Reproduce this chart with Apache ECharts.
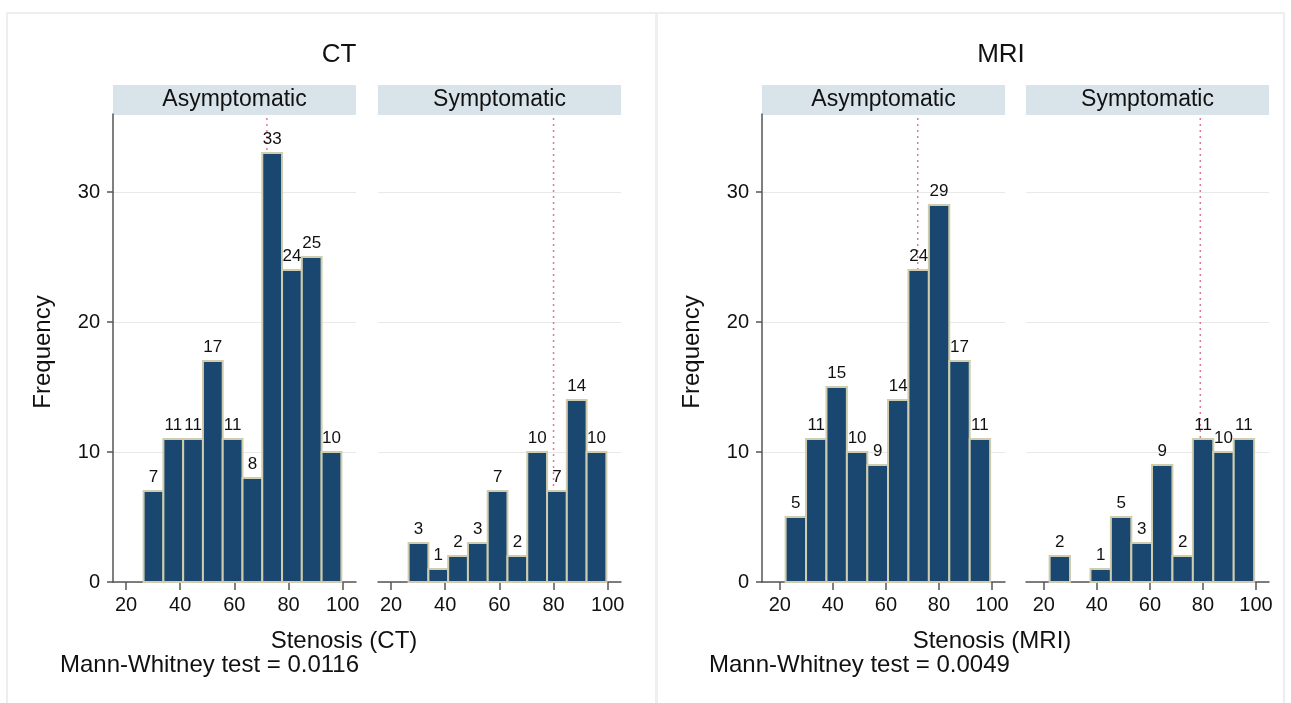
<!DOCTYPE html>
<html>
<head>
<meta charset="utf-8">
<title>Stenosis histograms CT / MRI</title>
<script src="https://cdn.jsdelivr.net/npm/echarts@6/dist/echarts.min.js"></script>
<style>
  html, body { margin: 0; padding: 0; background: #fff; }
  #chart { width: 1291px; height: 703px; }
</style>
</head>
<body>
<div id="chart"></div>
<script>
// bin edges (% stenosis)
let ctEdges = [26.5, 33.8, 41.1, 48.4, 55.7, 63.0, 70.3, 77.6, 84.9, 92.2, 99.5];
let mriEdges = [22.2, 29.9, 37.6, 45.3, 53.0, 60.8, 68.5, 76.2, 83.9, 91.6, 99.3];

// frequencies per bin
let ctAsym = [7, 11, 11, 17, 11, 8, 33, 24, 25, 10];
let ctSym = [3, 1, 2, 3, 7, 2, 10, 7, 14, 10];
let mriAsym = [5, 11, 15, 10, 9, 14, 24, 29, 17, 11];
let mriSym = [2, 0, 1, 5, 3, 9, 2, 11, 10, 11];

// medians (dotted lines)
let ctMedians = [72, 80];
let mriMedians = [72, 79];

let groups = ["Asymptomatic", "Symptomatic"];
let xTicks = [20, 40, 60, 80, 100];
let yTicks = [0, 10, 20, 30];
let yMax = 36;
let ctRange = [15.2, 104.9];
let mriRange = [13.3, 104.9];
let pValues = ["0.0116", "0.0049"];

let FONT = '"Liberation Sans", Arial, sans-serif';
let NAVY = "#1a476f";
let AXIS = "#555555";

let C = {};
let V = {};

C.init = function(){
    let panels = [
        {left: 113, edges: ctEdges, counts: ctAsym, median: ctMedians[0], range: ctRange, showY: true},
        {left: 378, edges: ctEdges, counts: ctSym, median: ctMedians[1], range: ctRange, showY: false},
        {left: 762, edges: mriEdges, counts: mriAsym, median: mriMedians[0], range: mriRange, showY: true},
        {left: 1026, edges: mriEdges, counts: mriSym, median: mriMedians[1], range: mriRange, showY: false}
    ];
    V.render(panels);
}

V.binData = function(edges, counts){
    let out = [];
    counts.forEach((c, i) => {
        if(c > 0){
            out.push([edges[i], edges[i+1], c]);
        }
    });
    return out;
}

V.renderBin = function(params, api){
    let p0 = api.coord([api.value(0), 0]);
    let p1 = api.coord([api.value(1), api.value(2)]);
    return {
        type: 'group',
        children: [
            {
                type: 'rect',
                shape: {x: p0[0], y: p1[1], width: p1[0] - p0[0], height: p0[1] - p1[1]},
                style: {fill: NAVY, stroke: '#cfcdae', lineWidth: 2}
            },
            {
                type: 'text',
                x: (p0[0] + p1[0]) / 2,
                y: p1[1] - 5,
                style: {
                    text: String(api.value(2)),
                    fill: '#111',
                    fontSize: 17,
                    fontFamily: FONT,
                    align: 'center',
                    verticalAlign: 'bottom'
                }
            }
        ]
    };
}

V.text = function(str, x, y, size, opts){
    return Object.assign({
        type: 'text',
        x: x,
        y: y,
        silent: true,
        style: {
            text: str,
            fill: '#111',
            fontSize: size,
            fontFamily: FONT,
            align: 'center',
            verticalAlign: 'middle'
        }
    }, opts || {});
}

V.render = function(panels){
    let dom = document.getElementById('chart');
    let myChart = echarts.init(dom, null, {renderer: 'canvas', useDirtyRect: false});

    let grids = [], xAxes = [], yAxes = [], series = [];
    panels.forEach((p, i) => {
        grids.push({left: p.left, top: 114, width: 243, height: 468});
        xAxes.push({
            type: 'value',
            gridIndex: i,
            min: p.range[0],
            max: p.range[1],
            axisLine: {show: true, onZero: false, lineStyle: {color: AXIS, width: 1.5}},
            axisTick: {show: true, length: 8, customValues: xTicks, lineStyle: {color: AXIS, width: 1.5}},
            axisLabel: {show: true, customValues: xTicks, margin: 13, fontSize: 20, color: '#111', fontFamily: FONT},
            splitLine: {show: false}
        });
        yAxes.push({
            type: 'value',
            gridIndex: i,
            min: 0,
            max: yMax,
            interval: 10,
            axisLine: {show: p.showY, lineStyle: {color: AXIS, width: 1.5}},
            axisTick: {show: p.showY, length: 6, customValues: yTicks, lineStyle: {color: AXIS, width: 1.5}},
            axisLabel: {show: p.showY, customValues: yTicks, margin: 13, fontSize: 20, color: '#111', fontFamily: FONT},
            splitLine: {show: true, lineStyle: {color: '#e9e9e9', width: 1}}
        });
        series.push({
            type: 'line',
            xAxisIndex: i,
            yAxisIndex: i,
            data: [[p.median, 0], [p.median, yMax]],
            symbol: 'none',
            silent: true,
            z: 1,
            lineStyle: {color: '#d9789a', width: 1.5, type: [2, 4]}
        });
        series.push({
            type: 'custom',
            xAxisIndex: i,
            yAxisIndex: i,
            z: 3,
            renderItem: V.renderBin,
            encode: {x: [0, 1], y: 2},
            data: V.binData(p.edges, p.counts)
        });
    });

    let graphic = [
        {type: 'rect', silent: true, z: -10, shape: {x: 7, y: 13, width: 1277, height: 700}, style: {fill: 'none', stroke: '#e6e9ed', lineWidth: 1.5}},
        {type: 'rect', silent: true, z: -10, shape: {x: 655, y: 13, width: 3, height: 700}, style: {fill: '#edf0f3'}}
    ];
    panels.forEach((p, i) => {
        graphic.push({type: 'rect', silent: true, shape: {x: p.left, y: 85, width: 243, height: 30}, style: {fill: '#d9e4ea'}});
        graphic.push(V.text(groups[i % 2], p.left + 121.5, 100, 23));
    });
    graphic.push(V.text('CT', 339, 55, 26));
    graphic.push(V.text('MRI', 1001, 55, 26));
    graphic.push(V.text('Frequency', 43, 352, 24, {rotation: Math.PI / 2}));
    graphic.push(V.text('Frequency', 692, 352, 24, {rotation: Math.PI / 2}));
    graphic.push(V.text('Stenosis (CT)', 344, 641, 24));
    graphic.push(V.text('Stenosis (MRI)', 992, 641, 24));
    graphic.push(V.text('Mann-Whitney test = ' + pValues[0], 60, 665, 24));
    graphic.push(V.text('Mann-Whitney test = ' + pValues[1], 709, 665, 24));
    graphic[graphic.length - 1].style.align = 'left';
    graphic[graphic.length - 2].style.align = 'left';

    let option = {
        animation: false,
        backgroundColor: '#ffffff',
        textStyle: {fontFamily: FONT},
        grid: grids,
        xAxis: xAxes,
        yAxis: yAxes,
        series: series,
        graphic: graphic
    };

    myChart.setOption(option);
    window.addEventListener('resize', myChart.resize);
}

C.init();
</script>
</body>
</html>
